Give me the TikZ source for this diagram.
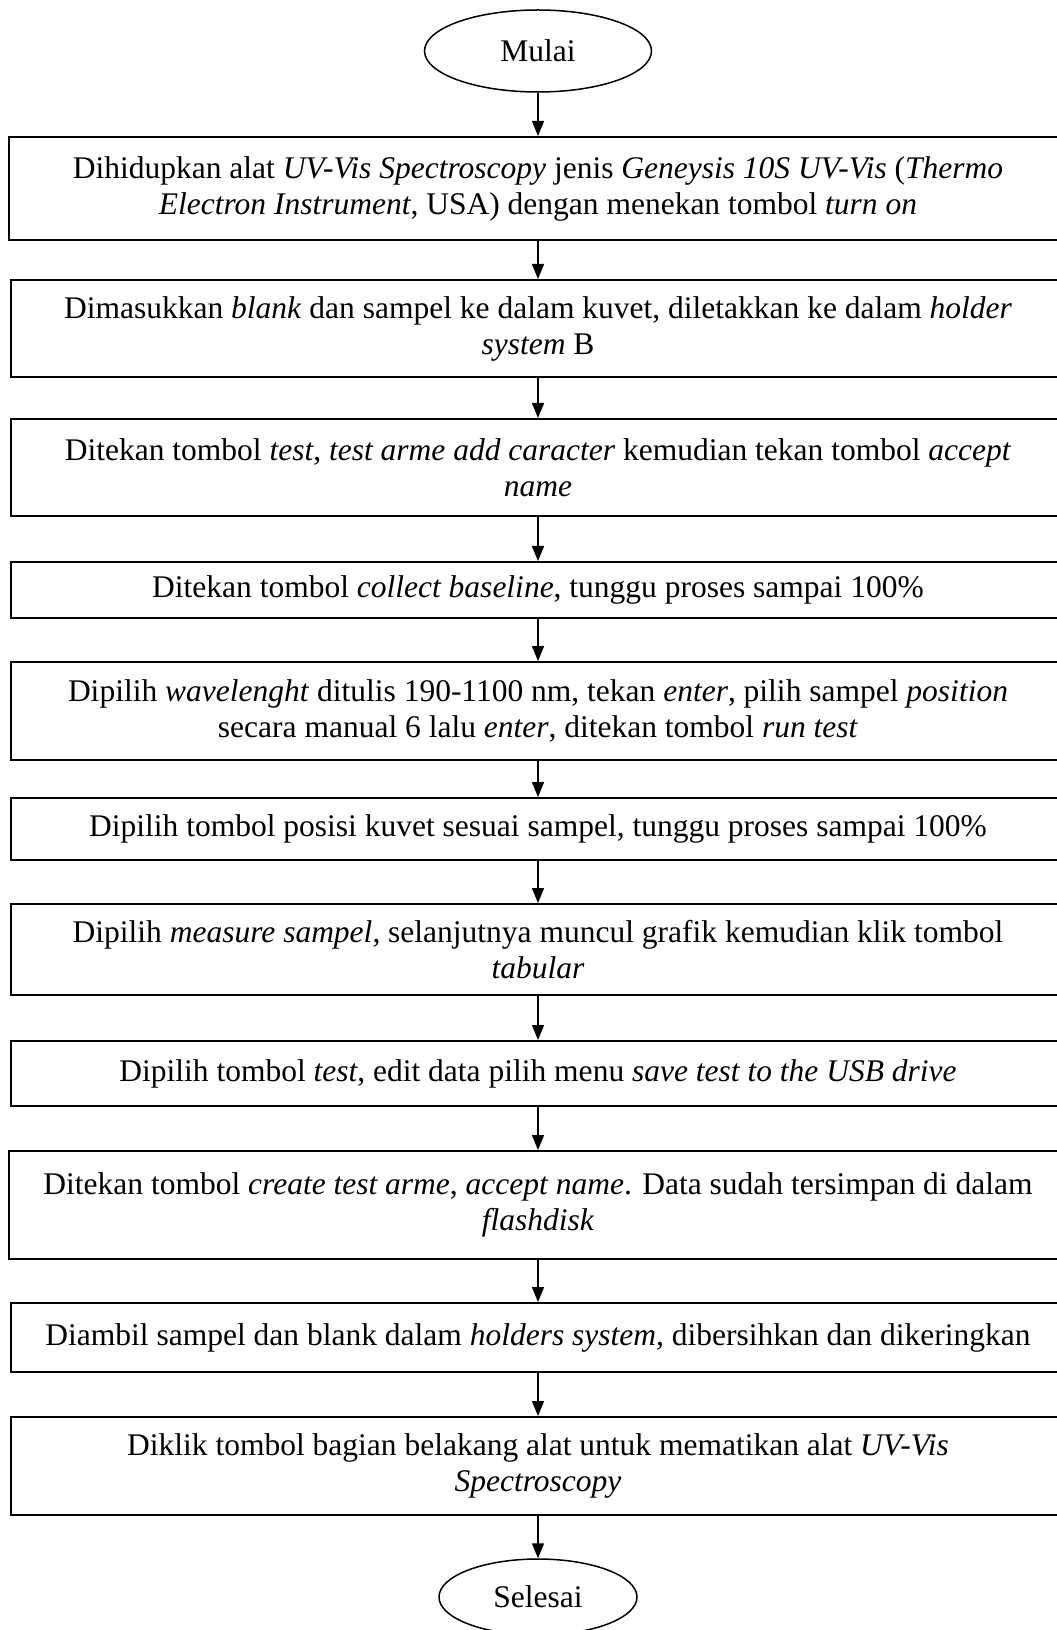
\documentclass[tikz,border=0pt]{standalone}
\usepackage{fontspec}
\setmainfont{Liberation Serif}
\usetikzlibrary{shapes.geometric,arrows.meta}

\begin{document}
\begin{tikzpicture}[x=0.4pt, y=-0.4pt,
  stepbox/.style={draw, line width=0.8pt, rectangle, inner sep=2pt, align=center,
    minimum width=421.6pt, font={\fontsize{12.6}{14.4}\selectfont}},
  terminal/.style={draw, line width=0.6pt, ellipse, inner sep=0pt,
    font={\fontsize{12.6}{14.4}\selectfont}},
  flow/.style={line width=0.6pt, -{Triangle[length=6pt,width=4.8pt]}}]
\useasboundingbox (0,0) rectangle (1057,1630);

\node[terminal, minimum width=90.8pt, minimum height=32.8pt] (mulai) at (538, 51) {Mulai};
\node[stepbox, minimum width=423.2pt, minimum height=41.2pt] (s1) at (538, 188.5)
  {Dihidupkan alat \textit{UV-Vis Spectroscopy} jenis \textit{Geneysis 10S UV-Vis} (\textit{Thermo}\\
   \textit{Electron Instrument}, USA) dengan menekan tombol \textit{turn on}};
\node[stepbox, minimum height=38.8pt] (s2) at (538, 328.5)
  {Dimasukkan \textit{blank} dan sampel ke dalam kuvet, diletakkan ke dalam \textit{holder}\\
   \textit{system} B};
\node[stepbox, minimum height=38.8pt] (s3) at (538, 467.5)
  {Ditekan tombol \textit{test}, \textit{test arme add caracter} kemudian tekan tombol \textit{accept}\\
   \textit{name}};
\node[stepbox, minimum height=22.4pt] (s4) at (538, 590)
  {Ditekan tombol \textit{collect baseline}, tunggu proses sampai 100\%};
\node[stepbox, minimum height=39.2pt] (s5) at (538, 711)
  {Dipilih \textit{wavelenght} ditulis 190-1100 nm, tekan \textit{enter}, pilih sampel \textit{position}\\
   secara manual 6 lalu \textit{enter}, ditekan tombol \textit{run test}};
\node[stepbox, minimum height=24.8pt] (s6) at (538, 829)
  {Dipilih tombol posisi kuvet sesuai sampel, tunggu proses sampai 100\%};
\node[stepbox, minimum height=36.4pt] (s7) at (538, 949.5)
  {Dipilih \textit{measure sampel}, selanjutnya muncul grafik kemudian klik tombol\\
   \textit{tabular}};
\node[stepbox, minimum height=26pt] (s8) at (538, 1073.5)
  {Dipilih tombol \textit{test}, edit data pilih menu \textit{save test to the USB drive}};
\node[stepbox, minimum width=423.2pt, minimum height=43.2pt] (s9) at (538, 1205)
  {Ditekan tombol \textit{create test arme}, \textit{accept name}. Data sudah tersimpan di dalam\\
   \textit{flashdisk}};
\node[stepbox, minimum height=27.6pt] (s10) at (538, 1337.5)
  {Diambil sampel dan blank dalam \textit{holders system}, dibersihkan dan dikeringkan};
\node[stepbox, minimum height=39.2pt] (s11) at (538, 1466)
  {Diklik tombol bagian belakang alat untuk mematikan alat \textit{UV-Vis}\\
   \textit{Spectroscopy}};
\node[terminal, minimum width=79.2pt, minimum height=30.4pt] (selesai) at (538, 1597) {Selesai};

\foreach \a/\b in {mulai/s1, s1/s2, s2/s3, s3/s4, s4/s5, s5/s6, s6/s7, s7/s8, s8/s9,
                   s9/s10, s10/s11, s11/selesai}
  \draw[flow] (\a) -- (\b);
\end{tikzpicture}
\end{document}
